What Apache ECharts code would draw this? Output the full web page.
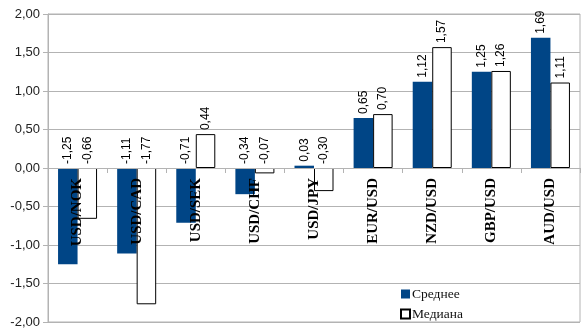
<!DOCTYPE html>
<html>
<head>
<meta charset="utf-8">
<script src="https://cdn.jsdelivr.net/npm/echarts@6/dist/echarts.min.js"></script>
<style>html,body{margin:0;padding:0;background:#fff;}#c{width:586px;height:334px;}</style>
</head>
<body>
<div id="c"></div>
<script>
const categories = ['USD/NOK','USD/CAD','USD/SEK','USD/CHF','USD/JPY','EUR/USD','NZD/USD','GBP/USD','AUD/USD'];
const meanValues = [-1.25, -1.11, -0.71, -0.34, 0.03, 0.65, 1.12, 1.25, 1.69];
const medianValues = [-0.66, -1.77, 0.44, -0.07, -0.30, 0.70, 1.57, 1.26, 1.11];
const seriesNames = ['Среднее', 'Медиана'];

const fmt = v => v.toFixed(2).replace('.', ',');
const labelCfg = {
  show: true, position: 'top', rotate: 90, align: 'left', verticalAlign: 'middle',
  distance: 4, fontFamily: 'Liberation Sans', fontSize: 12, color: '#000',
  formatter: p => fmt(p.value)
};
const gridTop = 14, gridBottom = 12, chartH = 334;
const yMin = -2, yMax = 2;
const zeroOffset = -(chartH - gridTop - gridBottom) * (0 - yMin) / (yMax - yMin);
const chart = echarts.init(document.getElementById('c'));
chart.setOption({
  animation: false,
  grid: {left: 48, right: 6, top: gridTop, bottom: gridBottom, containLabel: false, outerBoundsMode: 'none',
         show: true, borderColor: '#b3b3b3', borderWidth: 1},
  legend: {
    orient: 'vertical', left: 395, top: 282, itemWidth: 9, itemHeight: 9, itemGap: 6,
    icon: 'rect',
    textStyle: {fontFamily: 'Liberation Serif', fontSize: 13.5, color: '#111', padding: [0,0,0,-3]},
    data: seriesNames
  },
  xAxis: {
    type: 'category', data: categories, z: 10, position: 'bottom', offset: zeroOffset,
    axisLine: {onZero: false, lineStyle: {color: '#b3b3b3'}},
    axisTick: {show: true, length: 5, lineStyle: {color: '#b3b3b3'}},
    axisLabel: {rotate: 90, margin: 10, fontFamily: 'Liberation Serif', fontWeight: 'bold', fontSize: 15, color: '#000'}
  },
  yAxis: {
    type: 'value', min: yMin, max: yMax, interval: 0.5,
    axisLine: {show: true, lineStyle: {color: '#b3b3b3'}},
    axisTick: {show: true, length: 5, lineStyle: {color: '#b3b3b3'}},
    splitLine: {lineStyle: {color: '#b3b3b3'}},
    axisLabel: {margin: 8, fontFamily: 'Liberation Sans', fontSize: 13, color: '#222', formatter: v => fmt(v)}
  },
  series: [
    {name: seriesNames[0], type: 'bar', data: meanValues, barGap: '0%', barCategoryGap: '34%',
     itemStyle: {color: '#004586'}, label: labelCfg},
    {name: seriesNames[1], type: 'bar', data: medianValues,
     itemStyle: {color: '#ffffff', borderColor: '#000', borderWidth: 1}, label: labelCfg}
  ]
});
</script>
</body>
</html>
